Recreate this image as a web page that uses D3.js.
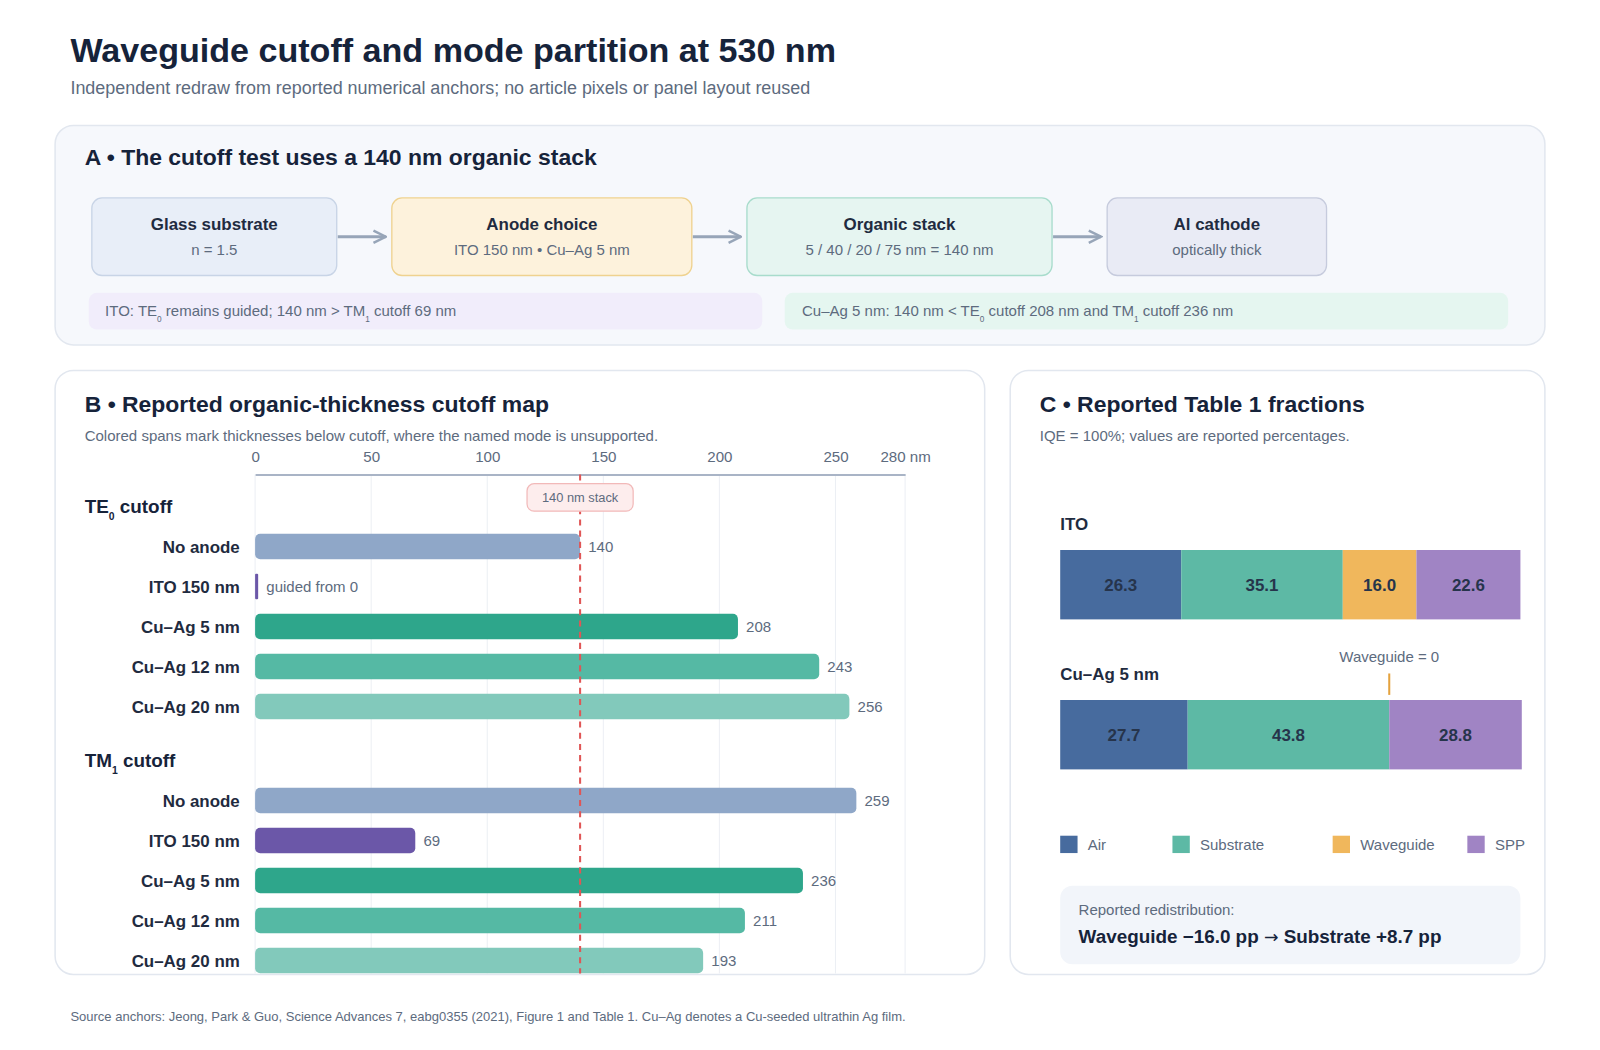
<!DOCTYPE html>
<html>
<head>
<meta charset="utf-8">
<script src="https://cdn.jsdelivr.net/npm/d3@7"></script>
<style>
  body { margin: 0; background: #ffffff; }
  svg { display: block; }
  svg text { font-family: "Liberation Sans", Arial, Helvetica, sans-serif; }
</style>
</head>
<body>
<div id="main"></div>
<script>
const ctx = {
    W: 1600,
    H: 1050,
    // drawing units: the layout was measured on a 1568-wide copy
    VW: 1568,
    VH: 1029,
    ink: "#16233a",
    muted: "#5d6b7e",
    body: 14.7,
    panelTitle: 22.5,
};

// panel A: device stack flow
const flowTitles = ["Glass substrate", "Anode choice", "Organic stack", "Al cathode"];
const flowSubs = ["n = 1.5", "ITO 150 nm • Cu–Ag 5 nm", "5 / 40 / 20 / 75 nm = 140 nm", "optically thick"];

// panel B: cutoff thickness (nm)
const axisTicks = [0, 50, 100, 150, 200, 250, 280];
const anodeRows = ["No anode", "ITO 150 nm", "Cu–Ag 5 nm", "Cu–Ag 12 nm", "Cu–Ag 20 nm"];
const te0Cutoff = [140, 0, 208, 243, 256];
const tm1Cutoff = [259, 69, 236, 211, 193];
const stackThickness = 140;

// panel C: Table 1 fractions (%)
const modeNames = ["Air", "Substrate", "Waveguide", "SPP"];
const deviceNames = ["ITO", "Cu–Ag 5 nm"];
const itoFractions = [26.3, 35.1, 16.0, 22.6];
const cuagFractions = [27.7, 43.8, 0.0, 28.8];

const rowColors = ["#8fa7c8", "#6b57a8", "#2ea68b", "#55b9a4", "#82c9bb"];
const modeColors = ["#476b9e", "#5db9a5", "#f0b75c", "#a084c4"];

function panel(svg, x, y, w, h, fill) {
    svg.append("rect")
        .attr("x", x).attr("y", y).attr("width", w).attr("height", h)
        .attr("rx", 18)
        .attr("fill", fill)
        .attr("stroke", "#e2e7ef")
        .attr("stroke-width", 1.5);
}

// text with subscripts: parts like {t:"TE"}, {t:"0", sub:true}
function subText(sel, size, parts) {
    let shift = size * 0.36;
    let down = false;
    parts.forEach(function (p) {
        let t = sel.append("tspan").text(p.t);
        if (p.sub) {
            t.attr("font-size", size * 0.55).attr("dy", shift);
            down = true;
        } else if (down) {
            t.attr("dy", -shift);
            down = false;
        }
    });
}

function drawHeader(svg) {
    svg.append("text")
        .attr("x", 69).attr("y", 61)
        .attr("font-size", 33.4).attr("font-weight", 700)
        .attr("fill", ctx.ink)
        .text("Waveguide cutoff and mode partition at 530 nm");
    svg.append("text")
        .attr("x", 69).attr("y", 92)
        .attr("font-size", 17.6)
        .attr("fill", ctx.muted)
        .text("Independent redraw from reported numerical anchors; no article pixels or panel layout reused");
    svg.append("text")
        .attr("x", 69).attr("y", 1001)
        .attr("font-size", 12.75)
        .attr("fill", ctx.muted)
        .text("Source anchors: Jeong, Park & Guo, Science Advances 7, eabg0355 (2021), Figure 1 and Table 1. Cu–Ag denotes a Cu-seeded ultrathin Ag film.");
}

function drawPanelA(svg) {
    panel(svg, 54, 123, 1460, 215, "#f6f8fc");
    svg.append("text")
        .attr("x", 83).attr("y", 162)
        .attr("font-size", ctx.panelTitle).attr("font-weight", 700)
        .attr("fill", ctx.ink)
        .text("A • The cutoff test uses a 140 nm organic stack");

    let boxX = [90, 384, 732, 1085];
    let boxW = [240, 294, 299, 215];
    let fills = ["#e8eef8", "#fdf2dc", "#e6f5f1", "#e9ebf5"];
    let strokes = ["#c8d4e6", "#efd28f", "#a8dccc", "#c6cbdd"];

    svg.append("defs").append("marker")
        .attr("id", "arrow")
        .attr("viewBox", "0 0 10 10")
        .attr("refX", 9).attr("refY", 5)
        .attr("markerWidth", 5).attr("markerHeight", 5)
        .attr("orient", "auto")
        .append("path")
        .attr("d", "M1,1 L9,5 L1,9")
        .attr("fill", "none")
        .attr("stroke", "#97a5b8")
        .attr("stroke-width", 1.6);

    let g = svg.append("g").attr("class", "flow");
    flowTitles.forEach(function (t, i) {
        g.append("rect")
            .attr("x", boxX[i]).attr("y", 194)
            .attr("width", boxW[i]).attr("height", 76)
            .attr("rx", 10)
            .attr("fill", fills[i]).attr("stroke", strokes[i]).attr("stroke-width", 1.3);
        g.append("text")
            .attr("x", boxX[i] + boxW[i] / 2).attr("y", 225)
            .attr("text-anchor", "middle")
            .attr("font-size", 16.6).attr("font-weight", 700)
            .attr("fill", "#1f2b40")
            .text(t);
        g.append("text")
            .attr("x", boxX[i] + boxW[i] / 2).attr("y", 250)
            .attr("text-anchor", "middle")
            .attr("font-size", ctx.body)
            .attr("fill", ctx.muted)
            .text(flowSubs[i]);
        if (i < flowTitles.length - 1) {
            g.append("line")
                .attr("x1", boxX[i] + boxW[i] + 1).attr("x2", boxX[i + 1] - 6)
                .attr("y1", 232).attr("y2", 232)
                .attr("stroke", "#97a5b8").attr("stroke-width", 3)
                .attr("marker-end", "url(#arrow)");
        }
    });

    // notes
    g.append("rect").attr("x", 87).attr("y", 287).attr("width", 660).attr("height", 36)
        .attr("rx", 8).attr("fill", "#f1edfb");
    g.append("rect").attr("x", 769).attr("y", 287).attr("width", 709).attr("height", 36)
        .attr("rx", 8).attr("fill", "#e5f6f0");
    let n1 = g.append("text").attr("x", 103).attr("y", 310)
        .attr("font-size", ctx.body).attr("fill", ctx.muted);
    subText(n1, ctx.body, [{t: "ITO: TE"}, {t: "0", sub: true}, {t: " remains guided; 140 nm > TM"},
        {t: "1", sub: true}, {t: " cutoff 69 nm"}]);
    let n2 = g.append("text").attr("x", 786).attr("y", 310)
        .attr("font-size", ctx.body).attr("fill", ctx.muted);
    subText(n2, ctx.body, [{t: "Cu–Ag 5 nm: 140 nm < TE"}, {t: "0", sub: true}, {t: " cutoff 208 nm and TM"},
        {t: "1", sub: true}, {t: " cutoff 236 nm"}]);
}

function drawPanelB(svg) {
    panel(svg, 54, 363, 911, 592, "#ffffff");
    svg.append("text")
        .attr("x", 83).attr("y", 404)
        .attr("font-size", ctx.panelTitle).attr("font-weight", 700)
        .attr("fill", ctx.ink)
        .text("B • Reported organic-thickness cutoff map");
    svg.append("text")
        .attr("x", 83).attr("y", 432)
        .attr("font-size", ctx.body)
        .attr("fill", ctx.muted)
        .text("Colored spans mark thicknesses below cutoff, where the named mode is unsupported.");

    let x = d3.scaleLinear().domain([0, 280]).range([250, 887]);
    let axisY = 465, bottom = 954;

    // grid
    svg.append("g").selectAll("line")
        .data(axisTicks)
        .enter().append("line")
        .attr("x1", d => x(d)).attr("x2", d => x(d))
        .attr("y1", axisY).attr("y2", bottom)
        .attr("stroke", "#eceff4").attr("stroke-width", 1);

    let axis = svg.append("g")
        .attr("transform", "translate(0," + axisY + ")")
        .call(d3.axisTop(x)
            .tickValues(axisTicks)
            .tickSize(0)
            .tickPadding(12)
            .tickFormat(d => d === 280 ? "280 nm" : d));
    axis.select(".domain").attr("stroke", "#a9b4c6").attr("stroke-width", 2);
    axis.selectAll("text")
        .attr("font-size", 14.8)
        .attr("fill", ctx.muted)
        .attr("font-family", "Liberation Sans, Arial, sans-serif");

    let groups = [
        {name: "TE", sub: "0", values: te0Cutoff, top: 516},
        {name: "TM", sub: "1", values: tm1Cutoff, top: 765},
    ];
    let barH = 25;

    groups.forEach(function (grp) {
        let y = d3.scaleBand().domain(anodeRows).range([grp.top, grp.top + 196]);
        let head = svg.append("text")
            .attr("x", 83).attr("y", grp.top - 13)
            .attr("font-size", 18.5).attr("font-weight", 700)
            .attr("fill", ctx.ink);
        subText(head, 18.5, [{t: grp.name}, {t: grp.sub, sub: true}, {t: " cutoff"}]);

        let g = svg.append("g");
        g.selectAll("text.row")
            .data(anodeRows)
            .enter().append("text")
            .attr("class", "row")
            .attr("x", 235)
            .attr("y", d => y(d) + y.bandwidth() / 2 + 6)
            .attr("text-anchor", "end")
            .attr("font-size", 16.6).attr("font-weight", 700)
            .attr("fill", "#1f2b40")
            .text(d => d);

        g.selectAll("rect")
            .data(grp.values)
            .enter().append("rect")
            .attr("x", x(0))
            .attr("y", (d, i) => y(anodeRows[i]) + (y.bandwidth() - barH) / 2)
            .attr("width", d => Math.max(3, x(d) - x(0)))
            .attr("height", barH)
            .attr("rx", d => d === 0 ? 1 : 5)
            .attr("fill", (d, i) => rowColors[i]);

        g.selectAll("text.val")
            .data(grp.values)
            .enter().append("text")
            .attr("class", "val")
            .attr("x", d => d === 0 ? x(0) + 11 : x(d) + 8)
            .attr("y", (d, i) => y(anodeRows[i]) + y.bandwidth() / 2 + 5)
            .attr("font-size", ctx.body)
            .attr("fill", ctx.muted)
            .text(d => d === 0 ? "guided from 0" : d);
    });

    // stack thickness marker
    svg.append("line")
        .attr("x1", x(stackThickness)).attr("x2", x(stackThickness))
        .attr("y1", axisY).attr("y2", bottom)
        .attr("stroke", "#e05656").attr("stroke-width", 2)
        .attr("stroke-dasharray", "6,5");
    svg.append("rect")
        .attr("x", x(stackThickness) - 52).attr("y", 474)
        .attr("width", 104).attr("height", 27)
        .attr("rx", 7)
        .attr("fill", "#fdeded").attr("stroke", "#f2b9b9").attr("stroke-width", 1.2);
    svg.append("text")
        .attr("x", x(stackThickness)).attr("y", 492)
        .attr("text-anchor", "middle")
        .attr("font-size", 12.6)
        .attr("fill", ctx.muted)
        .text(stackThickness + " nm stack");
}

function drawPanelC(svg) {
    panel(svg, 990, 363, 524, 592, "#ffffff");
    svg.append("text")
        .attr("x", 1019).attr("y", 404)
        .attr("font-size", ctx.panelTitle).attr("font-weight", 700)
        .attr("fill", ctx.ink)
        .text("C • Reported Table 1 fractions");
    svg.append("text")
        .attr("x", 1019).attr("y", 432)
        .attr("font-size", ctx.body)
        .attr("fill", ctx.muted)
        .text("IQE = 100%; values are reported percentages.");

    let x = d3.scaleLinear().domain([0, 100]).range([1039, 1490]);
    let rows = [itoFractions, cuagFractions].map(function (vals, i) {
        let r = {device: deviceNames[i]};
        modeNames.forEach((m, j) => r[m] = vals[j]);
        return r;
    });
    let stacked = d3.stack().keys(modeNames)(rows);
    let barTop = [539, 686];
    let barH = 68;

    deviceNames.forEach(function (d, i) {
        svg.append("text")
            .attr("x", 1039).attr("y", barTop[i] - 20)
            .attr("font-size", 16.6).attr("font-weight", 700)
            .attr("fill", "#1f2b40")
            .text(d);
    });

    stacked.forEach(function (layer, k) {
        let g = svg.append("g");
        g.selectAll("rect")
            .data(layer)
            .enter().append("rect")
            .attr("x", d => x(d[0]))
            .attr("y", (d, i) => barTop[i])
            .attr("width", d => x(d[1]) - x(d[0]))
            .attr("height", barH)
            .attr("fill", modeColors[k]);
        g.selectAll("text")
            .data(layer.filter(d => d[1] - d[0] > 0))
            .enter().append("text")
            .attr("x", d => (x(d[0]) + x(d[1])) / 2)
            .attr("y", d => barTop[rows.indexOf(d.data)] + barH / 2 + 6)
            .attr("text-anchor", "middle")
            .attr("font-size", 16.6).attr("font-weight", 700)
            .attr("fill", "#26344b")
            .text(d => (d[1] - d[0]).toFixed(1));
    });

    // zero waveguide marker for Cu-Ag
    let wg = stacked[2][1];
    svg.append("line")
        .attr("x1", x(wg[0])).attr("x2", x(wg[0]))
        .attr("y1", 660).attr("y2", 681)
        .attr("stroke", "#e4a23e").attr("stroke-width", 2);
    svg.append("text")
        .attr("x", x(wg[0])).attr("y", 649)
        .attr("text-anchor", "middle")
        .attr("font-size", ctx.body)
        .attr("fill", ctx.muted)
        .text("Waveguide = " + cuagFractions[2]);

    // legend
    let legX = [0, 110, 267, 399];
    let leg = svg.append("g").attr("transform", "translate(1039,819)");
    modeNames.forEach(function (m, i) {
        leg.append("rect")
            .attr("x", legX[i]).attr("y", 0)
            .attr("width", 17).attr("height", 17)
            .attr("fill", modeColors[i]);
        leg.append("text")
            .attr("x", legX[i] + 27).attr("y", 14)
            .attr("font-size", ctx.body)
            .attr("fill", ctx.muted)
            .text(m);
    });

    // redistribution note
    svg.append("rect")
        .attr("x", 1039).attr("y", 868)
        .attr("width", 451).attr("height", 77)
        .attr("rx", 12)
        .attr("fill", "#f2f5fa");
    svg.append("text")
        .attr("x", 1057).attr("y", 897)
        .attr("font-size", ctx.body)
        .attr("fill", ctx.muted)
        .text("Reported redistribution:");
    let dWg = cuagFractions[2] - itoFractions[2];
    let dSub = cuagFractions[1] - itoFractions[1];
    let red = svg.append("text")
        .attr("x", 1057).attr("y", 924)
        .attr("font-size", 18.5).attr("font-weight", 700)
        .attr("fill", ctx.ink);
    red.append("tspan").text("Waveguide −" + Math.abs(dWg).toFixed(1) + " pp ");
    red.append("tspan")
        .attr("font-family", "DejaVu Sans, sans-serif")
        .attr("font-weight", 400)
        .attr("font-size", 17)
        .text("→");
    red.append("tspan").text(" Substrate +" + dSub.toFixed(1) + " pp");
}

function createViz() {
    let svg = d3.select("#main").append("svg")
        .attr("width", ctx.W)
        .attr("height", ctx.H)
        .attr("viewBox", "0 0 " + ctx.VW + " " + ctx.VH);
    drawHeader(svg);
    drawPanelA(svg);
    drawPanelB(svg);
    drawPanelC(svg);
}

createViz();
</script>
</body>
</html>
